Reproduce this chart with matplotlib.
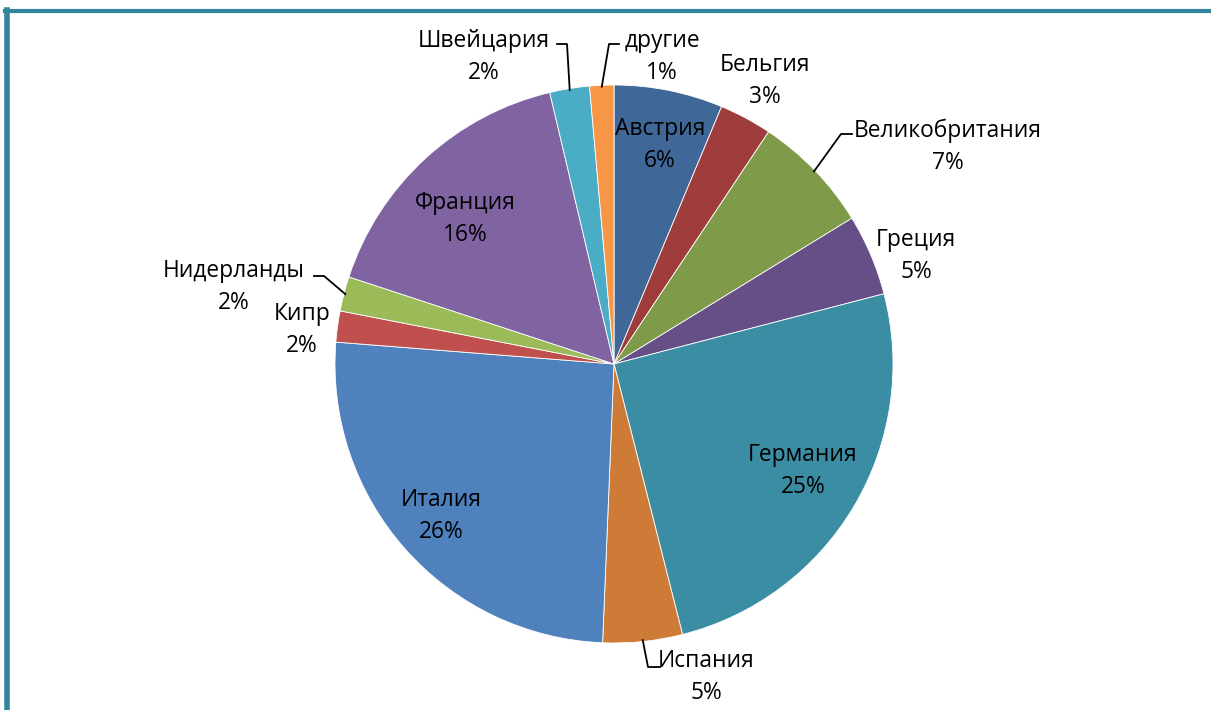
import matplotlib
matplotlib.use("Agg")
import matplotlib.pyplot as plt
import numpy as np

plt.rcParams['font.family'] = ['Open Sans', 'DejaVu Sans']

# data (shares, %)
countries = ['Австрия', 'Бельгия', 'Великобритания', 'Греция', 'Германия', 'Испания',
             'Италия', 'Кипр', 'Нидерланды', 'Франция', 'Швейцария', 'другие']
shares = [6.3, 3.05, 6.9, 4.7, 25.1, 4.6, 25.6, 1.8, 2.0, 16.25, 2.3, 1.4]
colors = ['#3F6899', '#9E3D3B', '#7F9A48', '#664F86', '#3B8DA4', '#CE7B38',
          '#4F81BD', '#C0504D', '#9BBB59', '#8064A2', '#4BACC6', '#F79646']

W, H = 1211, 710
cx, cy, R = 614, 364, 279  # pie centre / radius in pixels


def to_data(px, py):
    return (px - cx) / R, (cy - py) / R


# label centres (pixels) and leader line shapes
label_pos = {
    'Австрия': (660, 144), 'Бельгия': (765, 80), 'Великобритания': (948, 146),
    'Греция': (916, 255), 'Германия': (803, 470), 'Испания': (706, 676),
    'Италия': (441, 515), 'Кипр': (302, 329), 'Нидерланды': (234, 286),
    'Франция': (465, 218), 'Швейцария': (484, 56), 'другие': (662, 56),
}
leaders = {
    'Швейцария': [(557, 44), (567, 44)],
    'другие': [(619, 44), (609, 44)],
    'Великобритания': [(852, 134), (841, 134)],
    'Нидерланды': [(314, 276), (324, 276)],
    'Испания': [(660, 667), (648, 667)],
}

fig = plt.figure(figsize=(W / 100, H / 100), dpi=100)
ax = fig.add_axes([0, 0, 1, 1])

wedges, _ = ax.pie(shares, colors=colors, startangle=90, counterclock=False,
                   radius=1, center=(0, 0),
                   wedgeprops=dict(edgecolor='white', linewidth=0.6))

ax.set_xlim(-cx / R, (W - cx) / R)
ax.set_ylim(-(H - cy) / R, cy / R)
ax.set_aspect('equal')
ax.axis('off')

total = sum(shares)
for w, name, val in zip(wedges, countries, shares):
    px, py = label_pos[name]
    # name and percentage as two separate lines, 32 px apart
    for txt, dy in [(name, -15), ('{:.0f}%'.format(val / total * 100), 17)]:
        tx, ty = to_data(px, py + dy)
        ax.text(tx, ty, txt, ha='center', va='center', fontsize=16.4, color='black')
    if name in leaders:
        mid = np.deg2rad((w.theta1 + w.theta2) / 2)
        pts = [to_data(*p) for p in leaders[name]]
        pts.append((0.995 * np.cos(mid), 0.995 * np.sin(mid)))
        xs, ys = zip(*pts)
        ax.plot(xs, ys, color='black', lw=1.3)

# teal frame (top and left edges)
border = '#31859C'
fig.add_artist(plt.Line2D([5 / W, 1], [1 - 11 / H, 1 - 11 / H], color=border, lw=3,
                          transform=fig.transFigure))
fig.add_artist(plt.Line2D([7 / W, 7 / W], [0, 1 - 10 / H], color=border, lw=4,
                          transform=fig.transFigure))

fig.savefig('out.png', dpi=100, facecolor='white')
